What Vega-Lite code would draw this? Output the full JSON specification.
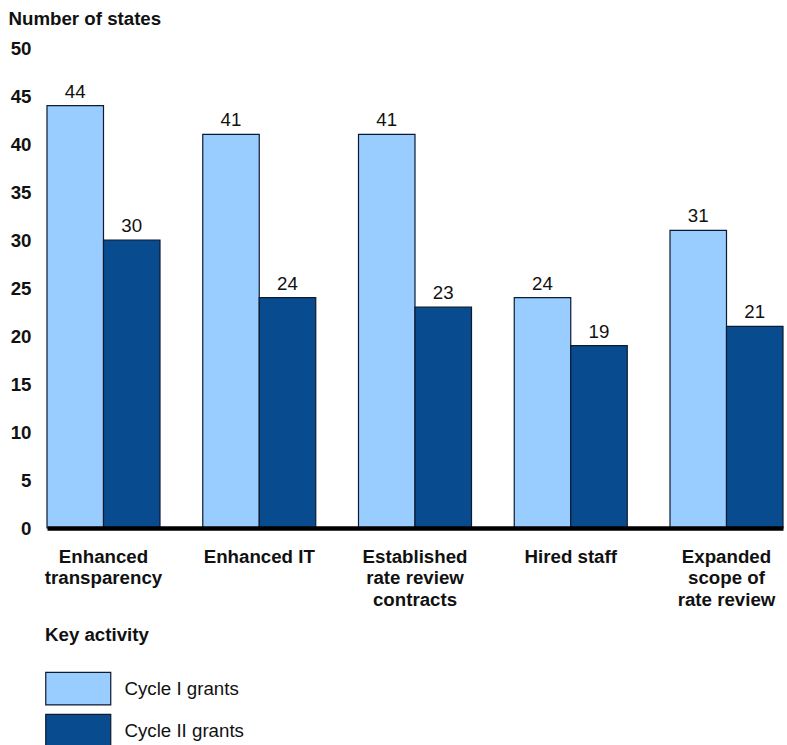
{
  "$schema": "https://vega.github.io/schema/vega-lite/v6.json",
  "width": 736,
  "height": 480,
  "autosize": "none",
  "padding": {"left": 47, "top": 48, "right": 4, "bottom": 217},
  "background": "white",
  "config": {
    "view": {"stroke": null},
    "font": "Liberation Sans"
  },
  "data": {
    "values": [
      {"activity": "Enhanced transparency", "cycle": "Cycle I grants", "states": 44},
      {"activity": "Enhanced transparency", "cycle": "Cycle II grants", "states": 30},
      {"activity": "Enhanced IT", "cycle": "Cycle I grants", "states": 41},
      {"activity": "Enhanced IT", "cycle": "Cycle II grants", "states": 24},
      {"activity": "Established rate review contracts", "cycle": "Cycle I grants", "states": 41},
      {"activity": "Established rate review contracts", "cycle": "Cycle II grants", "states": 23},
      {"activity": "Hired staff", "cycle": "Cycle I grants", "states": 24},
      {"activity": "Hired staff", "cycle": "Cycle II grants", "states": 19},
      {"activity": "Expanded scope of rate review", "cycle": "Cycle I grants", "states": 31},
      {"activity": "Expanded scope of rate review", "cycle": "Cycle II grants", "states": 21}
    ]
  },
  "encoding": {
    "x": {
      "field": "activity",
      "type": "nominal",
      "sort": null,
      "scale": {"paddingInner": 0.2745, "paddingOuter": 0},
      "axis": {
        "title": null,
        "labelAngle": 0,
        "labelFont": "Liberation Sans",
        "labelFontSize": 18.7,
        "labelFontWeight": "bold",
        "labelColor": "#111111",
        "labelPadding": 19,
        "labelLineHeight": 21.5,
        "labelBaseline": "top",
        "ticks": false,
        "domainColor": "#000000",
        "domainWidth": 4.5,
        "zindex": 2,
        "labelExpr": "datum.value == 'Enhanced transparency' ? ['Enhanced', 'transparency'] : datum.value == 'Established rate review contracts' ? ['Established', 'rate review', 'contracts'] : datum.value == 'Expanded scope of rate review' ? ['Expanded', 'scope of', 'rate review'] : datum.value"
      }
    },
    "xOffset": {
      "field": "cycle",
      "type": "nominal",
      "scale": {"paddingInner": 0, "paddingOuter": 0}
    },
    "y": {
      "field": "states",
      "type": "quantitative",
      "scale": {"domain": [0, 50]},
      "axis": {
        "title": "Number of states",
        "titleAngle": 0,
        "titleAlign": "left",
        "titleBaseline": "alphabetic",
        "titleX": -39,
        "titleY": -24,
        "titleFont": "Liberation Sans",
        "titleFontSize": 18.7,
        "titleFontWeight": "bold",
        "titleColor": "#111111",
        "values": [0, 5, 10, 15, 20, 25, 30, 35, 40, 45, 50],
        "domain": false,
        "ticks": false,
        "grid": false,
        "labelFont": "Liberation Sans",
        "labelFontSize": 18.7,
        "labelFontWeight": "bold",
        "labelColor": "#111111",
        "labelPadding": 16
      }
    }
  },
  "layer": [
    {
      "mark": {"type": "bar", "stroke": "#0d1a30", "strokeWidth": 1.2},
      "encoding": {
        "color": {
          "field": "cycle",
          "type": "nominal",
          "scale": {"domain": ["Cycle I grants", "Cycle II grants"], "range": ["#99CCFF", "#084C8F"]},
          "legend": {
            "title": "Key activity",
            "orient": "none",
            "legendX": -2,
            "legendY": 578,
            "direction": "vertical",
            "titleFont": "Liberation Sans",
            "titleFontSize": 18.7,
            "titleFontWeight": "bold",
            "titleColor": "#111111",
            "titlePadding": 27,
            "symbolType": "M-1,-1H3V1H-1Z",
            "symbolSize": 1056,
            "symbolStrokeColor": "#0d1a30",
            "symbolStrokeWidth": 1.2,
            "symbolOpacity": 1,
            "labelFont": "Liberation Sans",
            "labelFontSize": 18.7,
            "labelColor": "#111111",
            "labelOffset": 45.5,
            "rowPadding": 4
          }
        }
      }
    },
    {
      "mark": {"type": "text", "baseline": "alphabetic", "dy": -8, "font": "Liberation Sans", "fontSize": 18.7, "color": "#111111"},
      "encoding": {
        "text": {"field": "states", "type": "quantitative"}
      }
    }
  ]
}
